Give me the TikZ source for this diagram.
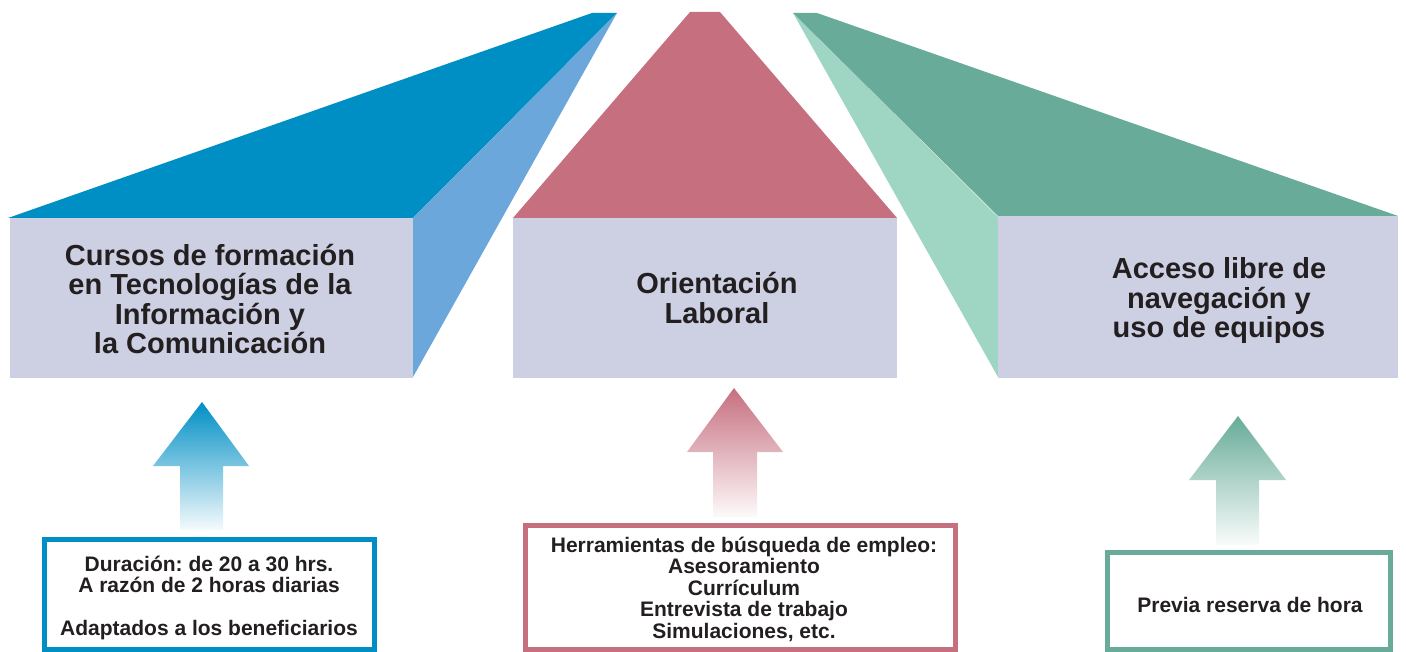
\documentclass[tikz,border=0pt]{standalone}
\usepackage{fontspec}
\setmainfont{Liberation Sans}
\definecolor{bluetop}{RGB}{0,143,197}
\definecolor{blueside}{RGB}{107,167,219}
\definecolor{pinktop}{RGB}{198,111,127}
\definecolor{greentop}{RGB}{103,171,152}
\definecolor{greenside}{RGB}{158,213,195}
\definecolor{frontface}{RGB}{204,208,226}
\definecolor{txt}{RGB}{35,31,32}
\frenchspacing
\begin{document}
\begin{tikzpicture}[x=1pt,y=-1pt,
  front/.style={fill=frontface},
  title/.style={text=txt,align=center,font=\bfseries\fontsize{29}{29.5}\selectfont,inner sep=0pt},
  boxtext/.style={text=txt,align=center,font=\bfseries\fontsize{21}{21.5}\selectfont,inner sep=0pt},
  infobox/.style={draw=#1,line width=5pt,fill=white},
  uparrow/.style={top color=#1,middle color=#1!62,bottom color=#1!4}
]
\useasboundingbox (0,0) rectangle (1406,652);
% blue block
\fill[bluetop] (8,218) -- (592,13) -- (617,13) -- (413,218) -- cycle;
\fill[blueside] (413,218) -- (617,13) -- (413,377) -- cycle;
\fill[front] (10,218) rectangle (413,378);
% pink block
\fill[pinktop] (513,218) -- (690,12) -- (720,12) -- (897,218) -- cycle;
\fill[front] (513,218) rectangle (897,378);
% green block
\fill[greenside] (793,13) -- (998,217) -- (998,377) -- cycle;
\fill[greentop] (793,13) -- (817,13) -- (1398,216) -- (998,216) -- cycle;
\fill[front] (998,216) rectangle (1398,378);
% titles
\node[title] (t1) at (210,299) {Cursos de formación\\en Tecnologías de la\\Información y\\la Comunicación};
\node[title] (t2) at (717,298) {Orientación\\Laboral};
\node[title] (t3) at (1219,301) {Acceso libre de\\navegación y\\uso de equipos};
% arrows
\shade[uparrow=bluetop]
  (202,402) -- (249,466) -- (223,466) -- (223,530) -- (180,530) -- (180,466) -- (153,466) -- cycle;
\shade[uparrow=pinktop]
  (734,388) -- (783,452) -- (757,452) -- (757,517) -- (713,517) -- (713,452) -- (687,452) -- cycle;
\shade[uparrow=greentop]
  (1238,416) -- (1286,480) -- (1259,480) -- (1259,545) -- (1216,545) -- (1216,480) -- (1189,480) -- cycle;
% info boxes
\draw[infobox=bluetop] (44.5,539.5) rectangle (374.5,649.5);
\node[boxtext] (b1) at (209,598) {Duración: de 20 a 30 hrs.\\A razón de 2 horas diarias\\[21.5pt]Adaptados a los beneficiarios};
\draw[infobox=pinktop] (525.5,525.5) rectangle (955.5,649.5);
\node[boxtext] (b2) at (744,589) {Herramientas de búsqueda de empleo:\\Asesoramiento\\Currículum\\Entrevista de trabajo\\Simulaciones, etc.};
\draw[infobox=greentop] (1107.5,552.5) rectangle (1390.5,649.5);
\node[boxtext] (b3) at (1250,605) {Previa reserva de hora};
\end{tikzpicture}
\end{document}
